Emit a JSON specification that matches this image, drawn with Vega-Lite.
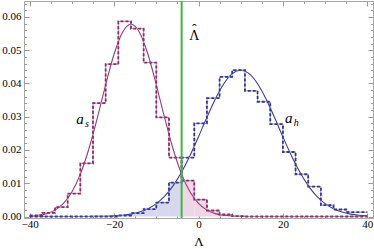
{
  "$schema": "https://vega.github.io/schema/vega-lite/v6.json",
  "autosize": {"type": "none"},
  "padding": {"left": 24, "top": 1, "right": 1, "bottom": 31},
  "width": 349,
  "height": 217,
  "background": "white",
  "config": {
    "view": {"stroke": "#a8a8a8", "strokeWidth": 1},
    "axis": {
      "domain": false, "grid": false, "tickColor": "#9a9a9a", "tickWidth": 1,
      "labelFont": "Liberation Serif", "labelFontSize": 11, "labelColor": "#000",
      "labelFlush": false, "labelOverlap": false,
      "titleFont": "Liberation Serif", "titleFontWeight": "normal", "titleFontSize": 13, "titleColor": "#000"
    }
  },
  "datasets": {
    "hist": [
      {"s": "s", "lo": -40, "hi": -37, "d": 0.0003},
      {"s": "s", "lo": -37, "hi": -34, "d": 0.0011},
      {"s": "s", "lo": -34, "hi": -31, "d": 0.0028},
      {"s": "s", "lo": -31, "hi": -28, "d": 0.0069},
      {"s": "s", "lo": -28, "hi": -25, "d": 0.016},
      {"s": "s", "lo": -25, "hi": -22, "d": 0.0341},
      {"s": "s", "lo": -22, "hi": -19, "d": 0.0458},
      {"s": "s", "lo": -19, "hi": -16, "d": 0.0587},
      {"s": "s", "lo": -16, "hi": -13, "d": 0.0565},
      {"s": "s", "lo": -13, "hi": -10, "d": 0.0463},
      {"s": "s", "lo": -10, "hi": -7, "d": 0.0298},
      {"s": "s", "lo": -7, "hi": -4, "d": 0.0177},
      {"s": "s", "lo": -4, "hi": -1, "d": 0.0108},
      {"s": "s", "lo": -1, "hi": 2, "d": 0.0051},
      {"s": "s", "lo": 2, "hi": 5, "d": 0.0018},
      {"s": "s", "lo": 5, "hi": 8, "d": 0.0006},
      {"s": "s", "lo": 8, "hi": 11, "d": 0.0001},
      {"s": "s", "lo": 11, "hi": 40, "d": 0},
      {"s": "s", "lo": 40, "hi": 40, "d": 0},
      {"s": "h", "lo": -40, "hi": -19, "d": 0},
      {"s": "h", "lo": -19, "hi": -16, "d": 0.0003},
      {"s": "h", "lo": -16, "hi": -13, "d": 0.001},
      {"s": "h", "lo": -13, "hi": -10, "d": 0.0022},
      {"s": "h", "lo": -10, "hi": -7, "d": 0.0042},
      {"s": "h", "lo": -7, "hi": -4, "d": 0.0102},
      {"s": "h", "lo": -4, "hi": -1, "d": 0.0177},
      {"s": "h", "lo": -1, "hi": 2, "d": 0.028},
      {"s": "h", "lo": 2, "hi": 5, "d": 0.0356},
      {"s": "h", "lo": 5, "hi": 8, "d": 0.042},
      {"s": "h", "lo": 8, "hi": 11, "d": 0.044},
      {"s": "h", "lo": 11, "hi": 14, "d": 0.0378},
      {"s": "h", "lo": 14, "hi": 17, "d": 0.0345},
      {"s": "h", "lo": 17, "hi": 20, "d": 0.0278},
      {"s": "h", "lo": 20, "hi": 23, "d": 0.0194},
      {"s": "h", "lo": 23, "hi": 26, "d": 0.0127},
      {"s": "h", "lo": 26, "hi": 29, "d": 0.009},
      {"s": "h", "lo": 29, "hi": 32, "d": 0.0034},
      {"s": "h", "lo": 32, "hi": 35, "d": 0.0021},
      {"s": "h", "lo": 35, "hi": 38, "d": 0.0013},
      {"s": "h", "lo": 38, "hi": 40, "d": 0.0013},
      {"s": "h", "lo": 40, "hi": 40, "d": 0.0013}
    ],
    "curve": [
      {"s": "s", "x": -40, "y": 0.000137}, {"s": "s", "x": -38, "y": 0.000358}, {"s": "s", "x": -36, "y": 0.000866},
      {"s": "s", "x": -34, "y": 0.001924}, {"s": "s", "x": -32, "y": 0.00393}, {"s": "s", "x": -30, "y": 0.00738},
      {"s": "s", "x": -28, "y": 0.01274}, {"s": "s", "x": -26, "y": 0.02022}, {"s": "s", "x": -24, "y": 0.02951},
      {"s": "s", "x": -22, "y": 0.03961}, {"s": "s", "x": -20, "y": 0.04886}, {"s": "s", "x": -18, "y": 0.05542},
      {"s": "s", "x": -16, "y": 0.0578}, {"s": "s", "x": -14, "y": 0.05542}, {"s": "s", "x": -12, "y": 0.04886},
      {"s": "s", "x": -10, "y": 0.03961}, {"s": "s", "x": -8, "y": 0.02951}, {"s": "s", "x": -6, "y": 0.02022},
      {"s": "s", "x": -4, "y": 0.01274}, {"s": "s", "x": -2, "y": 0.00738}, {"s": "s", "x": 0, "y": 0.00393},
      {"s": "s", "x": 2, "y": 0.001924}, {"s": "s", "x": 4, "y": 0.000866}, {"s": "s", "x": 6, "y": 0.000358},
      {"s": "s", "x": 8, "y": 0.000137}, {"s": "s", "x": 10, "y": 0.000048}, {"s": "s", "x": 12, "y": 0.000015},
      {"s": "s", "x": 14, "y": 0.000005}, {"s": "s", "x": 16, "y": 0}, {"s": "s", "x": 20, "y": 0},
      {"s": "s", "x": 30, "y": 0}, {"s": "s", "x": 40, "y": 0},
      {"s": "h", "x": -40, "y": 0}, {"s": "h", "x": -34, "y": 0}, {"s": "h", "x": -32, "y": 0.000001},
      {"s": "h", "x": -30, "y": 0.0000026}, {"s": "h", "x": -28, "y": 0.0000068}, {"s": "h", "x": -26, "y": 0.0000167},
      {"s": "h", "x": -24, "y": 0.0000391}, {"s": "h", "x": -22, "y": 0.0000871}, {"s": "h", "x": -20, "y": 0.000185},
      {"s": "h", "x": -18, "y": 0.000375}, {"s": "h", "x": -16, "y": 0.000723}, {"s": "h", "x": -14, "y": 0.001327},
      {"s": "h", "x": -12, "y": 0.002321}, {"s": "h", "x": -10, "y": 0.003869}, {"s": "h", "x": -8, "y": 0.006139},
      {"s": "h", "x": -6, "y": 0.009283}, {"s": "h", "x": -4, "y": 0.01337}, {"s": "h", "x": -2, "y": 0.01833},
      {"s": "h", "x": 0, "y": 0.02396}, {"s": "h", "x": 2, "y": 0.02982}, {"s": "h", "x": 4, "y": 0.03535},
      {"s": "h", "x": 6, "y": 0.03992}, {"s": "h", "x": 8, "y": 0.04295}, {"s": "h", "x": 10, "y": 0.044},
      {"s": "h", "x": 12, "y": 0.04295}, {"s": "h", "x": 14, "y": 0.03992}, {"s": "h", "x": 16, "y": 0.03535},
      {"s": "h", "x": 18, "y": 0.02982}, {"s": "h", "x": 20, "y": 0.02396}, {"s": "h", "x": 22, "y": 0.01833},
      {"s": "h", "x": 24, "y": 0.01337}, {"s": "h", "x": 26, "y": 0.009283}, {"s": "h", "x": 28, "y": 0.006139},
      {"s": "h", "x": 30, "y": 0.003869}, {"s": "h", "x": 32, "y": 0.002321}, {"s": "h", "x": 34, "y": 0.001327},
      {"s": "h", "x": 36, "y": 0.000723}, {"s": "h", "x": 38, "y": 0.000375}, {"s": "h", "x": 40, "y": 0.000185}
    ],
    "labels": [
      {"t": "a", "x": -28.1, "y": 0.0278, "r": "var"},
      {"t": "s", "x": -26.9, "y": 0.0269, "r": "sub"},
      {"t": "a", "x": 21.4, "y": 0.0281, "r": "var"},
      {"t": "h", "x": 22.6, "y": 0.0272, "r": "sub"},
      {"t": "Λ", "x": -1.0, "y": 0.0531, "r": "hat"},
      {"t": "ˆ", "x": -1.0, "y": 0.0549, "r": "hat"}
    ]
  },
  "resolve": {"axis": {"x": "independent", "y": "independent"}, "scale": {"color": "independent"}},
  "layer": [
    {
      "data": {"name": "hist"},
      "transform": [{"filter": "datum.s == 'h' && datum.hi <= -4"}],
      "mark": {"type": "rect", "color": "#d7d7ee", "strokeWidth": 0},
      "encoding": {
        "x": {"field": "lo", "type": "quantitative", "scale": {"domain": [-41.35, 41.35], "nice": false, "zero": false},
          "axis": {"orient": "bottom", "values": [-40, -20, 0, 20, 40], "format": "d", "tickSize": -5, "labelPadding": 5, "title": "Λ", "titlePadding": 6}},
        "x2": {"field": "hi"},
        "y": {"field": "d", "type": "quantitative", "scale": {"domain": [-0.00045, 0.0648], "nice": false, "zero": false},
          "axis": {"orient": "left", "values": [0, 0.01, 0.02, 0.03, 0.04, 0.05, 0.06], "format": ".2f", "tickSize": -5, "labelPadding": 8, "title": null}},
        "y2": {"datum": 0}
      }
    },
    {
      "data": {"name": "hist"},
      "transform": [{"filter": "datum.s == 's' && datum.lo >= -4"}],
      "mark": {"type": "rect", "color": "#eed6e4", "strokeWidth": 0},
      "encoding": {
        "x": {"field": "lo", "type": "quantitative", "scale": {"domain": [-41.35, 41.35], "nice": false, "zero": false},
          "axis": {"orient": "bottom", "values": [-35, -30, -25, -15, -10, -5, 5, 10, 15, 25, 30, 35], "labels": false, "tickSize": -2.5, "title": null}},
        "x2": {"field": "hi"},
        "y": {"field": "d", "type": "quantitative", "scale": {"domain": [-0.00045, 0.0648], "nice": false, "zero": false},
          "axis": {"orient": "left", "values": [0.002, 0.004, 0.006, 0.008, 0.012, 0.014, 0.016, 0.018, 0.022, 0.024, 0.026, 0.028, 0.032, 0.034, 0.036, 0.038, 0.042, 0.044, 0.046, 0.048, 0.052, 0.054, 0.056, 0.058, 0.062, 0.064], "labels": false, "tickSize": -2.5, "title": null}},
        "y2": {"datum": 0}
      }
    },
    {
      "data": {"name": "curve"},
      "mark": {"type": "line", "interpolate": "monotone", "strokeWidth": 1.1},
      "encoding": {
        "x": {"field": "x", "type": "quantitative", "scale": {"domain": [-41.35, 41.35], "nice": false, "zero": false},
          "axis": {"orient": "top", "values": [-40, -20, 0, 20, 40], "labels": false, "tickSize": -5, "title": null}},
        "y": {"field": "y", "type": "quantitative", "scale": {"domain": [-0.00045, 0.0648], "nice": false, "zero": false},
          "axis": {"orient": "right", "values": [0, 0.01, 0.02, 0.03, 0.04, 0.05, 0.06], "labels": false, "tickSize": -5, "title": null}},
        "color": {"field": "s", "type": "nominal", "scale": {"domain": ["s", "h"], "range": ["#9c3a78", "#3c3ca4"]}, "legend": null}
      }
    },
    {
      "data": {"name": "hist"},
      "mark": {"type": "line", "interpolate": "step-after", "strokeWidth": 1},
      "encoding": {
        "x": {"field": "lo", "type": "quantitative", "scale": {"domain": [-41.35, 41.35], "nice": false, "zero": false},
          "axis": {"orient": "top", "values": [-35, -30, -25, -15, -10, -5, 5, 10, 15, 25, 30, 35], "labels": false, "tickSize": -2.5, "title": null}},
        "y": {"field": "d", "type": "quantitative", "scale": {"domain": [-0.00045, 0.0648], "nice": false, "zero": false},
          "axis": {"orient": "right", "values": [0.002, 0.004, 0.006, 0.008, 0.012, 0.014, 0.016, 0.018, 0.022, 0.024, 0.026, 0.028, 0.032, 0.034, 0.036, 0.038, 0.042, 0.044, 0.046, 0.048, 0.052, 0.054, 0.056, 0.058, 0.062, 0.064], "labels": false, "tickSize": -2.5, "title": null}},
        "color": {"field": "s", "type": "nominal", "scale": {"domain": ["s", "h"], "range": ["#c98db5", "#9494d4"]}, "legend": null}
      }
    },
    {
      "data": {"name": "hist"},
      "mark": {"type": "line", "interpolate": "step-after", "strokeWidth": 1.8, "strokeDash": [3, 2]},
      "encoding": {
        "x": {"field": "lo", "type": "quantitative", "scale": {"domain": [-41.35, 41.35], "nice": false, "zero": false}, "axis": null},
        "y": {"field": "d", "type": "quantitative", "scale": {"domain": [-0.00045, 0.0648], "nice": false, "zero": false}, "axis": null},
        "color": {"field": "s", "type": "nominal", "scale": {"domain": ["s", "h"], "range": ["#8a2a68", "#34349a"]}, "legend": null}
      }
    },
    {
      "data": {"values": [{}]},
      "mark": {"type": "rule", "color": "#3cb83c", "strokeWidth": 2},
      "encoding": {
        "x": {"datum": -4, "type": "quantitative", "scale": {"domain": [-41.35, 41.35], "nice": false, "zero": false}, "axis": null}
      }
    },
    {
      "data": {"name": "labels"},
      "transform": [{"filter": "datum.r == 'var'"}],
      "mark": {"type": "text", "font": "Liberation Serif", "fontStyle": "italic", "fontSize": 15, "align": "center", "baseline": "alphabetic", "color": "#000"},
      "encoding": {
        "x": {"field": "x", "type": "quantitative", "axis": null},
        "y": {"field": "y", "type": "quantitative", "axis": null},
        "text": {"field": "t"}
      }
    },
    {
      "data": {"name": "labels"},
      "transform": [{"filter": "datum.r == 'sub'"}],
      "mark": {"type": "text", "font": "Liberation Serif", "fontStyle": "italic", "fontSize": 10, "align": "left", "baseline": "alphabetic", "color": "#000"},
      "encoding": {
        "x": {"field": "x", "type": "quantitative", "axis": null},
        "y": {"field": "y", "type": "quantitative", "axis": null},
        "text": {"field": "t"}
      }
    },
    {
      "data": {"name": "labels"},
      "transform": [{"filter": "datum.r == 'hat'"}],
      "mark": {"type": "text", "font": "Liberation Serif", "fontSize": 14, "align": "center", "baseline": "alphabetic", "color": "#000"},
      "encoding": {
        "x": {"field": "x", "type": "quantitative", "axis": null},
        "y": {"field": "y", "type": "quantitative", "axis": null},
        "text": {"field": "t"}
      }
    }
  ]
}
